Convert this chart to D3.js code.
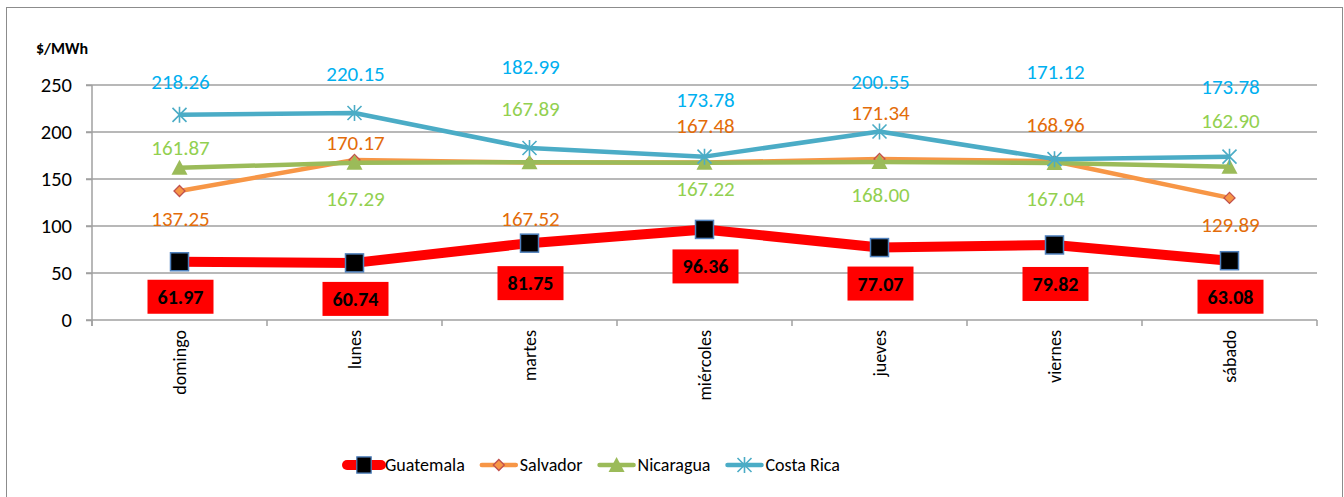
<!DOCTYPE html>
<html>
<head>
<meta charset="utf-8">
<script src="https://cdn.jsdelivr.net/npm/d3@7"></script>
<style>
  body { margin: 0; background: #fff; }
  text { font-family: Carlito, Calibri, Lato, sans-serif; }
</style>
</head>
<body>
<svg width="1344" height="497"></svg>
<script>
var days = ["domingo", "lunes", "martes", "miércoles", "jueves", "viernes", "sábado"];
var guatemala = [61.97, 60.74, 81.75, 96.36, 77.07, 79.82, 63.08];
var salvador = [137.25, 170.17, 167.52, 167.48, 171.34, 168.96, 129.89];
var nicaragua = [161.87, 167.29, 167.89, 167.22, 168.00, 167.04, 162.90];
var costaRica = [218.26, 220.15, 182.99, 173.78, 200.55, 171.12, 173.78];
var yTicks = [0, 50, 100, 150, 200, 250];
var names = ["Guatemala", "Salvador", "Nicaragua", "Costa Rica"];

// label offsets in px from each point (placed by hand in the original)
var gtDy = [35, 36, 40, 37, 36, 39, 36];
var svDy = [28, -17, 56, -37, -46, -37, 27];
var niDy = [-20, 36, -54, 26, 33, 36, -46];
var crDy = [-33, -39, -81, -57, -50, -87, -70];

var series = [
    { name: names[0], values: guatemala, dy: gtDy, line: "#ff0000", width: 10, label: "#000", marker: "square" },
    { name: names[1], values: salvador, dy: svDy, line: "#f79646", width: 4.5, label: "#e36c09", marker: "diamond" },
    { name: names[2], values: nicaragua, dy: niDy, line: "#9bbb59", width: 4.5, label: "#92d050", marker: "triangle" },
    { name: names[3], values: costaRica, dy: crDy, line: "#4bacc6", width: 4.5, label: "#00b0f0", marker: "star" }
];

var svg = d3.select("svg");
var plotL = 92, plotR = 1317, plotT = 85, plotB = 320;

var x = d3.scaleBand().domain(days).range([plotL, plotR]);
var y = d3.scaleLinear().domain([0, 250]).range([plotB, plotT]);
var cx = d => x(d) + x.bandwidth() / 2;

// outer frame
svg.append("rect")
    .attr("x", 6.5).attr("y", 7.5)
    .attr("width", 1336).attr("height", 500)
    .attr("fill", "none").attr("stroke", "#8c8c8c");

// gridlines
svg.append("g").selectAll("line")
    .data(yTicks).enter().append("line")
    .attr("x1", plotL - 6).attr("x2", plotR)
    .attr("y1", d => y(d)).attr("y2", d => y(d))
    .attr("stroke", "#a0a0a0").attr("stroke-width", 1.5);

// y axis
var yAxis = svg.append("g")
    .attr("transform", "translate(" + plotL + ",0)")
    .call(d3.axisLeft(y).tickValues(yTicks).tickSize(6).tickPadding(14));
yAxis.select(".domain").attr("stroke", "#a0a0a0").attr("stroke-width", 1.5)
    .attr("d", "M0," + plotT + "V" + (plotB + 6));
yAxis.selectAll(".tick line").attr("stroke", "#a0a0a0").attr("stroke-width", 1.5);
yAxis.selectAll(".tick text").attr("fill", "#000")
    .style("font-size", "20.5px").style("font-family", "Carlito, Calibri, Lato, sans-serif");

// x axis
var xAxis = svg.append("g")
    .attr("transform", "translate(0," + plotB + ")")
    .call(d3.axisBottom(x).tickSize(0).tickPadding(10));
xAxis.select(".domain").remove();
xAxis.selectAll(".tick text")
    .attr("fill", "#000")
    .style("font-size", "18px").style("font-family", "Carlito, Calibri, Lato, sans-serif")
    .attr("transform", "rotate(-90)")
    .attr("text-anchor", "end")
    .attr("x", -10).attr("y", 0).attr("dy", "0.35em");
svg.append("g").selectAll("line")
    .data(d3.range(days.length + 1)).enter().append("line")
    .attr("x1", i => plotL + i * x.step()).attr("x2", i => plotL + i * x.step())
    .attr("y1", plotB).attr("y2", plotB + 6)
    .attr("stroke", "#a0a0a0").attr("stroke-width", 1.5);

svg.append("text")
    .attr("x", 36).attr("y", 54)
    .style("font-size", "16px").style("font-weight", "bold")
    .text("$/MWh");

function drawMarker(g, type, color) {
    if (type === "square") {
        g.append("rect").attr("x", -9).attr("y", -9).attr("width", 18).attr("height", 18)
            .attr("fill", "#000").attr("stroke", "#4f81bd").attr("stroke-width", 1.5);
    } else if (type === "diamond") {
        g.append("path").attr("d", "M0,-5.5L5.5,0L0,5.5L-5.5,0Z")
            .attr("fill", "#f79646").attr("stroke", "#c0504d").attr("stroke-width", 1.3);
    } else if (type === "triangle") {
        g.append("path").attr("d", "M0,-8L8,7L-8,7Z").attr("fill", color);
    } else {
        g.append("path").attr("d", "M0,-8V8M-7,-7L7,7M-7,7L7,-7")
            .attr("stroke", color).attr("stroke-width", 1.6).attr("fill", "none");
    }
}

var line = d3.line()
    .x((d, i) => cx(days[i]))
    .y(d => y(d));

series.forEach(function (s) {
    var g = svg.append("g");
    g.append("path")
        .attr("d", line(s.values))
        .attr("fill", "none")
        .attr("stroke", s.line)
        .attr("stroke-width", s.width)
        .attr("stroke-linejoin", "round");
    s.values.forEach(function (v, i) {
        var m = g.append("g")
            .attr("transform", "translate(" + cx(days[i]) + "," + y(v) + ")");
        drawMarker(m, s.marker, s.line);
    });
});

// data labels
series.forEach(function (s) {
    var g = svg.append("g");
    s.values.forEach(function (v, i) {
        var lx = cx(days[i]) + 1;
        var ly = y(v) + s.dy[i];
        if (s.marker === "square") {
            g.append("rect").attr("x", lx - 33).attr("y", ly - 17)
                .attr("width", 66).attr("height", 34).attr("fill", "#ff0000");
        }
        g.append("text")
            .attr("x", lx).attr("y", ly).attr("dy", "0.35em")
            .attr("text-anchor", "middle")
            .attr("fill", s.label)
            .style("font-size", s.marker === "square" ? "20px" : "21px")
            .style("font-weight", s.marker === "square" ? "bold" : "normal")
            .text(v.toFixed(2));
    });
});

// legend
var lg = svg.append("g").attr("transform", "translate(345,465)");
var off = 0;
series.forEach(function (s) {
    var item = lg.append("g").attr("transform", "translate(" + off + ",0)");
    item.append("line").attr("x1", 2).attr("x2", 36).attr("y1", 0).attr("y2", 0)
        .attr("stroke", s.line).attr("stroke-width", s.width).attr("stroke-linecap", "round");
    drawMarker(item.append("g").attr("transform", "translate(19,0)" + (s.marker === "square" ? " scale(0.8,0.9)" : "")), s.marker, s.line);
    var t = item.append("text").attr("x", 40).attr("y", 0).attr("dy", "0.35em")
        .style("font-size", "18px").text(s.name);
    off += 40 + t.node().getComputedTextLength() + 15;
});
</script>
</body>
</html>
